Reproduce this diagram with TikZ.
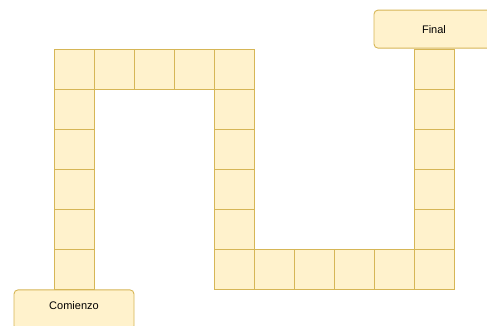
\documentclass[tikz,border=0pt]{standalone}
\usepackage{fontspec}
\setsansfont{Liberation Sans}
\usetikzlibrary{positioning}

\begin{document}
\begin{tikzpicture}[
      x=1pt, y=-1pt,
      node distance=0pt,
      cell/.style={draw=tablero, fill=casilla, line width=0.9pt,
                   minimum size=40pt, inner sep=0pt},
      box/.style={draw=tablero, fill=casilla, line width=0.9pt,
                  rounded corners=4pt, minimum width=120pt,
                  font=\sffamily\fontsize{11}{13}\selectfont}
    ]
    \definecolor{casilla}{HTML}{FFF2CC}
    \definecolor{tablero}{HTML}{D6B656}
    \useasboundingbox (0,0) rectangle (487,326);
    % casillas del camino, desde el comienzo hasta el final
    \foreach \i/\j [count=\n] in {0/5,0/4,0/3,0/2,0/1,0/0,
                                  1/0,2/0,3/0,4/0,
                                  4/1,4/2,4/3,4/4,4/5,
                                  5/5,6/5,7/5,8/5,9/5,
                                  9/4,9/3,9/2,9/1,9/0}
      \node[cell] (c\n) at (74+40*\i, 69+40*\j) {};
    \node[box, minimum height=38pt, above=of c25] (final) {Final};
    \node[box, minimum height=40pt, text height=8pt, text depth=8pt,
          below=of c1] (comienzo) {Comienzo};
  \end{tikzpicture}
\end{document}
